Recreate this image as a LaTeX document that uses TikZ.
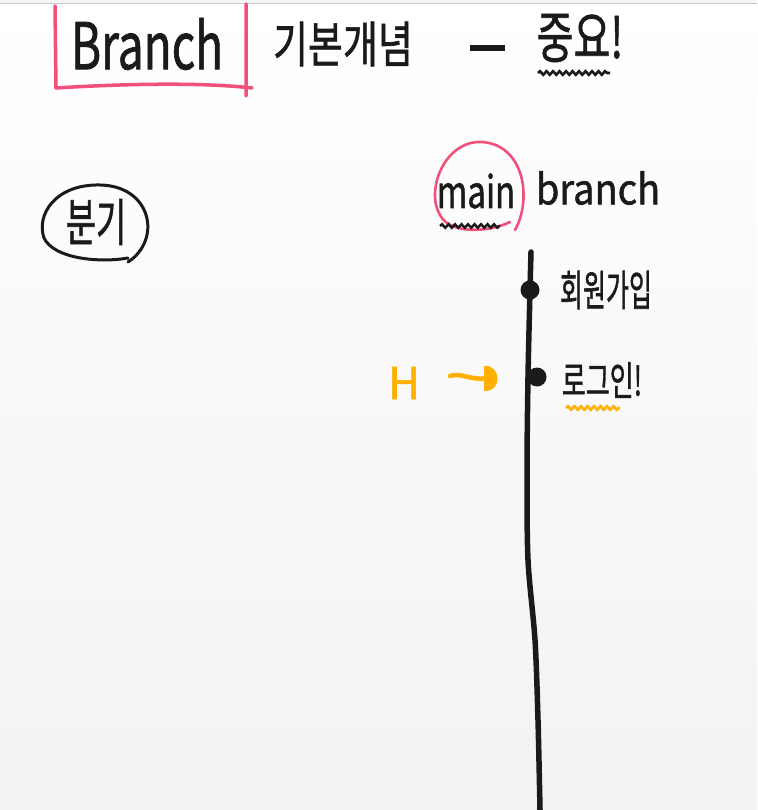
\documentclass[tikz,border=0pt]{standalone}
\usepackage{fontspec}
\setmainfont{Noto Sans CJK KR}
\newfontfamily\hand{Noto Sans CJK KR}[FakeBold=1.3]
\usetikzlibrary{decorations.pathmorphing,arrows.meta}
\definecolor{pinkc}{HTML}{F0507A}
\definecolor{orangec}{HTML}{FFB000}
\definecolor{inkc}{HTML}{1A1A1A}
\tikzset{
  hand/.style={inner sep=0pt, anchor=center, text=inkc, font=\hand},
  wavy/.style={line width=2.6pt, decorate, decoration={snake, amplitude=1.8pt, segment length=6.5pt}},
  dotc/.style={circle, fill=inkc, minimum size=19pt, inner sep=0pt},
}
\newcommand{\tall}[2]{\scalebox{1}[#1]{#2}}
\begin{document}
\begin{tikzpicture}[x=1pt,y=-1pt]
\useasboundingbox (0,0) rectangle (757,810);
\shade[top color=white, bottom color=black!5] (0,0) rectangle (757,810);
\fill[black!4] (0,0) rectangle (757,3);
\draw[black!22, line width=1.2pt] (0,3.5) -- (757,3.5);
% title
\node[hand] (branch) at (147,44) {\fontsize{46}{48}\selectfont\tall{1.4}{Branch}};
\draw[pinkc, line width=3.5pt, line cap=round, line join=round]
  (55,6) -- (56,88) .. controls (120,84) and (200,82) .. (252,88)
  (246,4) -- (246,96);
\node[hand] (concept) at (343,44) {\fontsize{38}{40}\selectfont\tall{1.3}{기본개념}};
\draw[inkc, line width=6pt] (470,48) -- (505,48);
\node[hand] (important) at (580,38) {\fontsize{40}{42}\selectfont\tall{1.4}{중요!}};
\draw[wavy, inkc] (538,73) -- (610,73);
% left circled
\node[hand] (bungi) at (96,222) {\fontsize{33}{34}\selectfont\tall{1.55}{분기}};
\draw[inkc, line width=3pt, line cap=round]
  (128,262) .. controls (162,240) and (152,186) .. (100,185)
  .. controls (55,184) and (36,215) .. (44,238)
  .. controls (54,259) and (100,263) .. (128,258);
% main branch
\node[hand] (main) at (476,191) {\fontsize{33}{35}\selectfont\tall{1.35}{main}};
\draw[pinkc, line width=2.6pt, line cap=round]
  (515,230) .. controls (532,200) and (525,145) .. (482,142)
  .. controls (445,140) and (425,190) .. (440,215)
  .. controls (450,235) and (490,232) .. (510,222);
\draw[wavy, inkc, line width=2.4pt] (440,226) -- (500,226);
\node[hand] (branchlbl) at (598,188) {\fontsize{38}{40}\selectfont\tall{1.1}{branch}};
% branch line
\coordinate (top) at (531,252);
\coordinate (bottom) at (540,810);
\node[dotc] (c1) at (530,290) {};
\node[dotc] (c2) at (537,377) {};
\draw[inkc, line width=5.5pt, line cap=round]
  plot[smooth] coordinates {(531,252) (530,290) (528,377) (527,470) (528,560) (535,640) (538,720) (540,810)};
\node[hand] (signup) at (606,290) {\fontsize{25}{27}\selectfont\tall{1.7}{회원가입}};
\node[hand] (login) at (602,380) {\fontsize{26}{28}\selectfont\tall{1.55}{로그인!}};
\draw[wavy, orangec] (566,408) -- (620,408);
% HEAD
\node[hand, text=orangec] (head) at (404,383) {\fontsize{44}{46}\selectfont H};
\coordinate (hs) at (450,376);
\coordinate (he) at (487,378);
\draw[orangec, line width=4.5pt, line cap=round]
  (hs) .. controls (462,372) and (470,381) .. (he);
\fill[orangec] (he) ++(-3,-12) .. controls (501,364) and (503,392) .. (484,391) -- cycle;
\end{tikzpicture}
\end{document}
